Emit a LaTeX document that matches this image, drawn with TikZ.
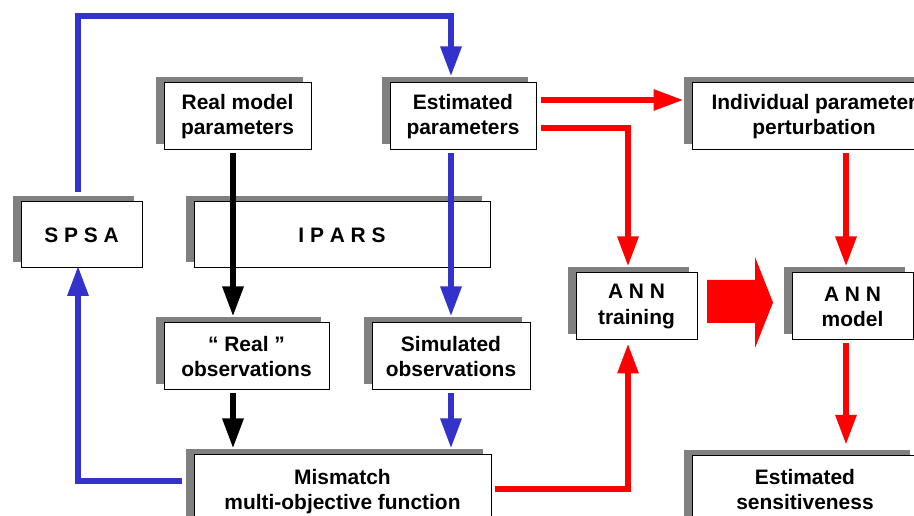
\documentclass[tikz,border=0pt]{standalone}
\usepackage{fontspec}
\setmainfont{Liberation Sans}
\usetikzlibrary{arrows.meta,shadows,calc}

\definecolor{flowblue}{RGB}{51,51,204}
\definecolor{flowred}{RGB}{255,0,0}
\definecolor{shadowgray}{RGB}{128,128,128}

\begin{document}
\begin{tikzpicture}[x=0.75pt, y=-0.75pt,
  box/.style={draw=black, line width=0.75pt, fill=white, align=center, inner sep=0pt,
    font=\fontsize{15.7pt}{18.8pt}\selectfont\bfseries,
    drop shadow={shadow xshift=-6pt, shadow yshift=4.5pt, fill=shadowgray, opacity=1}},
  flow/.style={line width=4.5pt, -{Triangle[length=22.5pt, width=15pt]}}]
\path [use as bounding box, clip] (0, 0) rectangle (914, 516);

\node [box, minimum width=110.25pt, minimum height=50.25pt] (realpar) at (237.5, 116.5) {Real model\\parameters};
\node [box, minimum width=109.5pt, minimum height=50.25pt] (estpar) at (463, 116.5) {Estimated\\parameters};
\node [box, minimum width=183pt, minimum height=50.25pt] (indiv) at (814, 116.5) {Individual parameter\\perturbation};
\node [box, minimum width=90.75pt, minimum height=49.5pt] (spsa) at (81.5, 235) {S P S A};
\node [box, minimum width=222pt, minimum height=49.5pt] (ipars) at (342, 235) {I P A R S};
\node [box, minimum width=90.75pt, minimum height=50.25pt] (anntrain) at (636.5, 306.5) {A N N\\training};
\node [box, minimum width=90.75pt, minimum height=50.25pt] (annmodel) at (852.5, 306.5) {A N N\\model};
\node [box, minimum width=123.75pt, minimum height=50.25pt] (realobs) at (246.5, 356.5) {“ Real ”\\observations};
\node [box, minimum width=118.5pt, minimum height=50.25pt] (simobs) at (451, 356.5) {Simulated\\observations};
\node [box, minimum width=222.75pt, minimum height=55.5pt] (mismatch) at (342.5, 492) {Mismatch\\multi-objective function};
\node [box, minimum width=169.5pt, minimum height=50.25pt] (estsens) at (805, 489.5) {Estimated\\sensitiveness};

\coordinate (colS) at (78, 16.5);
\coordinate (colE) at (451, 16.5);
\coordinate (colR) at (233, 0);
\coordinate (colM) at (846, 0);
\coordinate (rowM) at (78, 481);
\coordinate (rowA) at (0, 100);
\coordinate (colT) at (628, 128);
\coordinate (rowF) at (628, 489);

\draw [flow, flowblue, shorten <=6.75pt, shorten >=4.5pt] (spsa.north -| colS) -- (colS) -- (colE) -- (estpar.north -| colE);
\draw [flow, flowblue, shorten <=9pt, shorten >=-2pt] (mismatch.west |- rowM) -- (rowM) -- (spsa.south -| rowM);
\draw [flow, black, shorten <=2.25pt, shorten >=4.5pt] (realpar.south -| colR) -- (realobs.north -| colR);
\draw [flow, black, shorten <=2.25pt, shorten >=4.5pt] (realobs.south -| colR) -- (mismatch.north -| colR);
\draw [flow, flowblue, shorten <=2.25pt, shorten >=4.5pt] (estpar.south -| colE) -- (simobs.north -| colE);
\draw [flow, flowblue, shorten <=2.25pt, shorten >=4.5pt] (simobs.south -| colE) -- (mismatch.north -| colE);
\draw [flow, flowred, shorten <=3pt, shorten >=6pt] (estpar.east |- rowA) -- (indiv.west |- rowA);
\draw [flow, flowred, shorten <=3pt, shorten >=4.5pt] (estpar.east |- colT) -- (colT) -- (anntrain.north -| colT);
\draw [flow, flowred, shorten <=2.25pt, shorten >=2.25pt] (mismatch.east |- rowF) -- (rowF) -- (anntrain.south -| rowF);
\draw [flow, flowred, shorten <=2.25pt, shorten >=4.5pt] (indiv.south -| colM) -- (annmodel.north -| colM);
\draw [flow, flowred, shorten <=2.25pt, shorten >=8pt] (annmodel.south -| colM) -- (estsens.north -| colM);

\fill [flowred] (707, 280) -- (755, 280) -- (755, 257) -- (773, 302.5) -- (755, 348) -- (755, 323) -- (707, 323) -- cycle;
\end{tikzpicture}
\end{document}
